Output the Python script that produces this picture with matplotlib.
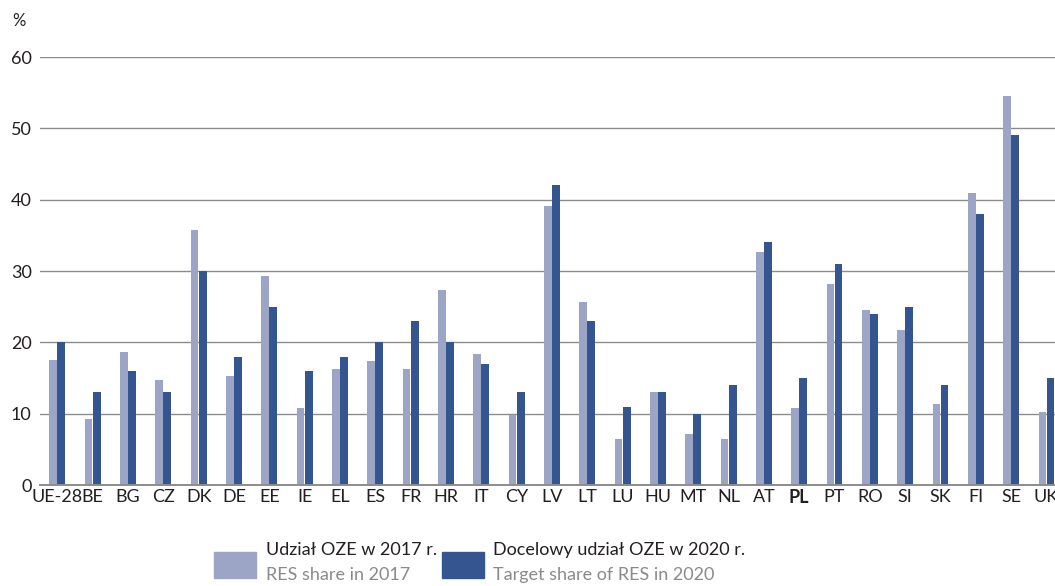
import matplotlib
matplotlib.use("Agg")
import matplotlib.pyplot as plt
from matplotlib.patches import Rectangle
import numpy as np

categories = ["UE-28", "BE", "BG", "CZ", "DK", "DE", "EE", "IE", "EL", "ES",
              "FR", "HR", "IT", "CY", "LV", "LT", "LU", "HU", "MT", "NL",
              "AT", "PL", "PT", "RO", "SI", "SK", "FI", "SE", "UK"]
share_2017 = [17.5, 9.2, 18.6, 14.7, 35.8, 15.3, 29.3, 10.8, 16.3, 17.4,
              16.3, 27.3, 18.4, 9.8, 39.1, 25.7, 6.4, 13.1, 7.1, 6.5,
              32.6, 10.8, 28.2, 24.5, 21.7, 11.4, 40.9, 54.5, 10.2]
target_2020 = [20, 13, 16, 13, 30, 18, 25, 16, 18, 20,
               23, 20, 17, 13, 42, 23, 11, 13, 10, 14,
               34, 15, 31, 24, 25, 14, 38, 49, 15]
yticks = [0, 10, 20, 30, 40, 50, 60]
legend_pl = ["Udział OZE w 2017 r.", "Docelowy udział OZE w 2020 r."]
legend_en = ["RES share in 2017", "Target share of RES in 2020"]

LIGHT = "#9ca5c6"
DARK = "#34558f"
FONT = "Lato"

W, H = 1055, 586
fig = plt.figure(figsize=(W / 100, H / 100), dpi=100)
ax = fig.add_axes([40 / W, 1 - 485 / H, 1 - 40 / W, (485 - 57) / H])

x = np.arange(len(categories))
bw = 0.22
ax.bar(x - bw / 2 - 0.005, share_2017, width=bw, color=LIGHT, zorder=3)
ax.bar(x + bw / 2 + 0.005, target_2020, width=bw, color=DARK, zorder=3)

ax.set_xlim(-0.49, 28.24)
ax.set_ylim(0, 60)
ax.set_yticks(yticks)
ax.yaxis.grid(True, color="#8c8c8c", linewidth=1.0, zorder=0)
ax.set_axisbelow(True)
for s in ["top", "right", "left"]:
    ax.spines[s].set_visible(False)
ax.spines["bottom"].set_color("#8c8c8c")
ax.spines["bottom"].set_linewidth(1.4)
ax.spines["bottom"].set_zorder(4)
ax.tick_params(axis="both", length=0, labelsize=13, colors="#231f20")
ax.tick_params(axis="y", pad=6)
ax.tick_params(axis="x", pad=3)
ax.set_xticks(x)
ax.set_xticklabels(categories, fontfamily=FONT)
for lbl in ax.get_yticklabels():
    lbl.set_fontfamily(FONT)
for lbl in ax.get_xticklabels():
    if lbl.get_text() == "PL":
        lbl.set_fontweight("bold")

fig.text(12 / W, 1 - 21 / H, "%", fontsize=12, fontfamily=FONT,
         color="#231f20", va="center", ha="left")

# legend
for i, (px, tx) in enumerate([(214, 266), (442, 493)]):
    fig.patches.append(Rectangle((px / W, 1 - 578 / H), 42 / W, 26 / H,
                                 transform=fig.transFigure,
                                 color=[LIGHT, DARK][i]))
    fig.text(tx / W, 1 - 550 / H, legend_pl[i], fontsize=13, fontfamily=FONT,
             color="#231f20", va="center", ha="left")
    fig.text(tx / W, 1 - 575 / H, legend_en[i], fontsize=13, fontfamily=FONT,
             color="#8a8a8a", va="center", ha="left")

fig.savefig("out.png", dpi=100)
